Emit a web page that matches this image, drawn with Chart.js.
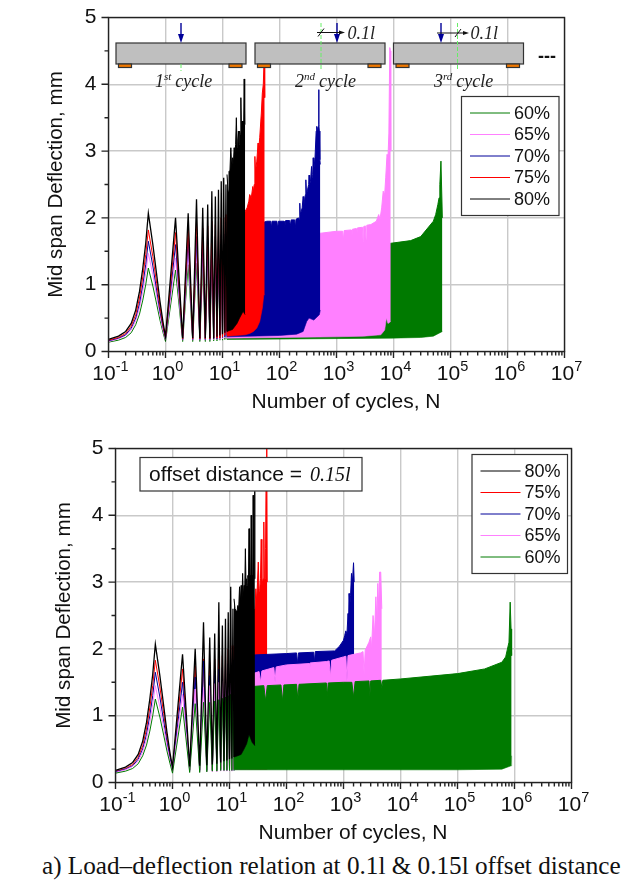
<!DOCTYPE html>
<html>
<head>
<meta charset="utf-8">
<script src="https://cdn.jsdelivr.net/npm/chart.js@4"></script>
<style>
html, body { margin: 0; background: #fff; }
body { width: 626px; height: 884px; position: relative; overflow: hidden; }
.wrap { position: absolute; left: 0; width: 626px; }
#caption { position: absolute; left: 42px; top: 852px; font: 25.2px "Liberation Serif"; color: #111; white-space: nowrap; }
</style>
</head>
<body>
<div class="wrap" style="top:0;height:412px"><canvas id="chartTop"></canvas></div>
<div class="wrap" style="top:430px;height:413px"><canvas id="chartBottom"></canvas></div>
<div id="caption">a) Load–deflection relation at 0.1l &amp; 0.15l offset distance</div>
<script>
const powers = [-1, 0, 1, 2, 3, 4, 5, 6, 7]
const xTitle = 'Number of cycles, N'
const colors = {'80%': '#000000', '75%': '#ff0000', '70%': '#000099', '65%': '#ff80ff', '60%': '#007a00'}

// load cycles: rise to first peak, then peak / trough per half cycle
const cycleN = [0.1,0.15,0.2,0.25,0.3,0.35,0.4,0.45,0.5,0.6,0.7,0.8,0.9,1,1.5,2,2.5,3,3.5,4,4.5,5,5.5,6,6.5,7,7.5,8,8.5,9,9.5,10,10.5,11,11.5,12]

// --- 0.1l offset
const a80 = [.18,.23,.30,.42,.62,.90,1.25,1.62,2.07,1.6,1.15,.75,.45,.22,2.0,.2,2.07,.2,2.28,.2,2.15,.2,2.2,.2,2.4,.2,2.32,.22,2.42,.24,2.55,.26,2.6,.28,2.5,.3]
const a75 = [.17,.21,.27,.38,.55,.80,1.12,1.45,1.82,1.42,1.02,.67,.40,.21,1.78,.19,1.85,.19,1.95,.19,1.85,.19,1.88,.19,1.95,.2,1.9,.2,1.95,.2,2.0,.22,2.0,.24,2.05,.25]
const a70 = [.16,.2,.25,.35,.5,.72,1.0,1.3,1.65,1.28,.92,.6,.37,.2,1.6,.18,1.7,.18,1.72,.18,1.68,.18,1.7,.18,1.72,.19,1.72,.19,1.72,.2,1.75,.21,1.76,.22,1.78,.22]
const a65 = [.15,.19,.24,.32,.46,.65,.9,1.17,1.47,1.15,.83,.55,.33,.18,1.4,.17,1.5,.17,1.52,.17,1.5,.17,1.52,.17,1.52,.18,1.52,.18,1.54,.18,1.55,.19,1.55,.2,1.56,.2]
const a60 = [.14,.17,.21,.28,.4,.56,.77,1.0,1.25,.98,.71,.47,.29,.15,1.22,.15,1.3,.15,1.32,.15,1.3,.15,1.33,.15,1.33,.16,1.34,.16,1.35,.17,1.36,.17,1.36,.18,1.37,.18]

const a80TopN = [12,12.5,13,13.5,14,14.5,15,15.5,16,16.5,17,17.5,18,18.5,19,19.5,20,20.5,21,21.5,22,22.5,23,23.5,24,24.5,25]
const a80TopY = [2.65,2.4,2.7,2.7,3.05,2.75,2.9,2.8,3.05,2.95,3.1,3.5,3.05,3.15,3.3,3.1,3.3,3.25,3.8,3.3,3.45,3.3,3.45,3.35,4.08,3.4,3.4]
const a80LowN = [12,15,18,20,23,25]
const a80LowY = [.3,.33,.42,.5,.6,.55]

const a75TopN = [12,25,27,29,30,32,34,35,36,37,38,40,42,43,45,47,48,50,52,54,55]
const a75TopY = [2.0,2.1,2.15,2.25,2.35,2.3,2.47,2.4,2.5,2.92,2.7,2.85,3.12,3.0,3.2,3.45,3.57,3.87,4.0,4.45,3.8]
const a75LowN = [12,25,30,35,40,45,50,53,55]
const a75LowY = [.23,.25,.27,.3,.35,.45,.65,.85,.85]

const a70TopN = [12,55,60,70,72,74,90,93,96,120,124,128,150,155,160,185,190,195,215,220,227,232,240,250,260,268,275,285,290,298,310,325,330,338,350,365,372,382,390,400,420,440,450,462,470,480,488,492,500,510,520]
const a70TopY = [1.9,1.94,1.95,1.95,1.85,1.95,1.95,1.84,1.95,1.95,1.87,1.96,1.96,1.88,1.97,1.97,1.85,1.98,2.0,1.98,2.22,2.05,2.1,2.15,2.32,2.2,2.25,2.35,2.57,2.35,2.42,2.5,2.64,2.5,2.55,2.77,2.6,2.65,2.9,2.72,2.9,3.3,3.37,3.3,3.35,3.37,3.92,3.4,3.3,2.87,2.8]
const a70LowN = [12,100,200,260,300,330,400,500,520]
const a70LowY = [.22,.24,.26,.3,.45,.5,.47,.55,.62]

const a65TopN = [12,500,520,1000,1280,1320,1360,1800,1850,1900,2200,2260,2320,2850,2930,3000,3200,3300,3400,4000,5000,5500,5800,6200,6600,7000,7300,7700,8000,8300,8600,8800,8950]
const a65TopY = [1.5,1.76,1.77,1.8,1.8,1.66,1.81,1.82,1.68,1.83,1.84,1.7,1.85,1.86,1.65,1.87,1.88,1.68,1.89,1.9,1.95,2.05,1.98,2.15,2.4,2.35,2.6,2.95,2.9,3.27,4.55,4.5,3.0]
const a65LowN = [12,1000,3000,6000,7000,7500,8000,8950]
const a65LowY = [.2,.22,.23,.25,.32,.5,.42,.45]

const a60TopN = [12,9000,20000,30000,50000,55000,60000,63000,65000,68000,72000]
const a60TopY = [1.35,1.62,1.66,1.72,1.95,2.05,2.2,2.3,2.5,2.85,2.0]
const a60LowN = [12,9000,30000,50000,72000]
const a60LowY = [.18,.2,.21,.23,.3]

// --- 0.15l offset
const b80 = [.18,.23,.30,.42,.62,.90,1.25,1.62,2.07,1.6,1.15,.75,.45,.23,1.92,.24,2.0,.25,2.4,.26,2.17,.27,2.23,.28,2.7,.3,2.35,.32,2.45,.33,2.55,.35,2.93,.36,2.6,.38]
const b75 = [.17,.21,.27,.38,.55,.80,1.12,1.45,1.83,1.43,1.03,.67,.40,.21,1.7,.19,1.75,.19,1.85,.19,1.8,.19,1.85,.19,1.95,.2,1.9,.2,1.95,.2,2.0,.2,2.05,.2,2.05,.2]
const b70 = [.16,.2,.25,.35,.5,.72,1.0,1.3,1.65,1.28,.92,.6,.37,.19,1.5,.18,1.58,.18,1.82,.18,1.6,.18,1.65,.18,1.7,.18,1.72,.18,1.75,.18,1.78,.18,1.8,.18,1.82,.18]
const b65 = [.15,.19,.24,.32,.46,.65,.9,1.17,1.45,1.13,.82,.54,.33,.17,1.32,.16,1.4,.16,1.42,.16,1.45,.16,1.48,.16,1.5,.17,1.52,.17,1.55,.17,1.56,.17,1.58,.17,1.6,.18]
const b60 = [.14,.17,.21,.28,.4,.56,.77,1.0,1.25,.98,.71,.47,.29,.14,1.13,.15,1.18,.15,1.2,.16,1.2,.17,1.22,.17,1.24,.18,1.26,.18,1.28,.18,1.3,.18,1.32,.18,1.34,.18]

const b80TopN = [12,12.5,13,13.5,14,14.5,15,15.5,16,16.5,17,17.5,18,18.5,19,19.5,20,20.5,21,21.5,22,22.5,23,23.5,24,24.5,25,25.5,26,26.5,27,27.5,28]
const b80TopY = [2.75,2.6,2.6,2.55,2.65,2.6,2.93,2.7,2.95,2.7,3.13,2.8,2.95,2.85,3.5,2.95,3.05,2.95,3.1,3.0,3.8,3.1,3.1,3.05,4.0,3.05,3.1,3.0,4.3,3.05,3.05,4.36,3.05]
const b80LowN = [12,14,16,18,20,22,25,28]
const b80LowY = [.38,.4,.42,.5,.58,.72,.6,.55]

const b75TopN = [12,28,29,30,31,32,33,34,35,36,37,38,39,40,41,42,43,44,45,46]
const b75TopY = [2.0,2.6,2.9,2.7,3.0,3.3,2.85,2.9,3.05,3.64,2.95,3.0,3.05,3.9,3.0,3.05,3.5,4.8,5.2,3.0]
const b75LowN = [12,46]
const b75LowY = [.2,.2]

const b70TopN = [12,28,100,150,156,162,300,310,320,700,850,1000,1050,1100,1150,1200,1230,1250,1290,1330,1380,1420,1500,1540]
const b70TopY = [1.85,1.91,1.93,1.94,1.78,1.94,1.95,1.8,1.96,1.97,2.04,2.13,2.2,2.27,2.22,2.53,2.4,2.83,2.65,2.8,3.13,2.95,3.29,3.0]
const b70LowN = [12,1540]
const b70LowY = [.2,.22]

const b65TopN = [12,28,33,35,37,60,63,66,100,250,255,260,500,560,590,620,1000,1100,1150,1200,2000,2200,2300,2400,2800,3000,3100,3300,3500,3700,3850,4000,4150,4300,4500,4700]
const b65TopY = [1.5,1.64,1.66,1.5,1.67,1.72,1.5,1.73,1.76,1.78,1.56,1.79,1.81,1.82,1.58,1.83,1.88,1.89,1.52,1.9,1.94,1.96,1.62,1.98,2.1,2.18,2.0,2.5,2.2,2.78,2.4,2.98,2.6,3.15,3.15,2.6]
const b65LowN = [12,4700]
const b65LowY = [.2,.22]

const b60TopN = [12,28,40,43,46,80,85,90,150,158,166,500,520,540,1000,1400,1500,1600,2800,2900,3000,4500,4700,4900,10000,100000,300000,600000,700000,800000,840000,870000,890000]
const b60TopY = [1.3,1.44,1.45,1.22,1.45,1.46,1.22,1.46,1.47,1.25,1.47,1.49,1.3,1.49,1.5,1.5,1.28,1.51,1.52,1.3,1.52,1.53,1.42,1.53,1.55,1.63,1.7,1.8,1.88,2.1,2.7,2.3,1.9]
const b60LowN = [12,10000,100000,600000,870000,890000]
const b60LowY = [.19,.19,.19,.2,.25,.4]

function points(xs, ys) {
    return xs.map((x, i) => ({x: x, y: ys[i]}))
}

// one load level = zigzag line + filled band where the cycles are too dense to separate
function levelSets(name, zig, topN, topY, lowN, lowY) {
    const c = colors[name]
    return [
        {label: name, data: points(cycleN, zig), borderColor: c, borderWidth: name == '80%' ? 1.3 : 1, fill: false},
        {label: name, data: points(topN, topY), borderColor: c, backgroundColor: c, borderWidth: 1, fill: '+1'},
        {label: name, data: points(lowN, lowY), borderColor: c, borderWidth: 0.6, fill: false},
    ]
}

// datasets earlier in the list are painted last
const topSets = [
    ...levelSets('80%', a80, a80TopN, a80TopY, a80LowN, a80LowY),
    ...levelSets('75%', a75, a75TopN, a75TopY, a75LowN, a75LowY),
    ...levelSets('70%', a70, a70TopN, a70TopY, a70LowN, a70LowY),
    ...levelSets('65%', a65, a65TopN, a65TopY, a65LowN, a65LowY),
    ...levelSets('60%', a60, a60TopN, a60TopY, a60LowN, a60LowY),
]
const bottomSets = [
    ...levelSets('80%', b80, b80TopN, b80TopY, b80LowN, b80LowY),
    ...levelSets('60%', b60, b60TopN, b60TopY, b60LowN, b60LowY),
    ...levelSets('65%', b65, b65TopN, b65TopY, b65LowN, b65LowY),
    ...levelSets('70%', b70, b70TopN, b70TopY, b70LowN, b70LowY),
    ...levelSets('75%', b75, b75TopN, b75TopY, b75LowN, b75LowY),
]

const sans = '"Liberation Sans"'
const serif = '"Liberation Serif"'

function isDecade(v) {
    const l = Math.log10(v)
    return Math.abs(l - Math.round(l)) < 1e-6
}

// frame, tick marks of two lengths, the 10^n labels and the x title
const axesPlugin = {
    id: 'axesPlugin',
    afterDatasetsDraw(chart) {
        const c = chart.ctx, a = chart.chartArea, xs = chart.scales.x, ys = chart.scales.y
        c.save()
        c.strokeStyle = '#222'
        c.lineWidth = 1.4
        c.strokeRect(a.left, a.top, a.right - a.left, a.bottom - a.top)
        c.beginPath()
        xs.ticks.forEach(t => {
            const x = xs.getPixelForValue(t.value)
            c.moveTo(x, a.bottom)
            c.lineTo(x, a.bottom + (isDecade(t.value) ? 6.5 : 4))
        })
        ys.ticks.forEach(t => {
            const y = ys.getPixelForValue(t.value)
            c.moveTo(a.left, y)
            c.lineTo(a.left - (Number.isInteger(t.value) ? 7 : 4), y)
        })
        c.stroke()
        c.fillStyle = '#111'
        c.textBaseline = 'alphabetic'
        powers.forEach(p => {
            const x = xs.getPixelForValue(Math.pow(10, p))
            const e = String(p)
            c.font = '21px ' + sans
            const w10 = c.measureText('10').width
            c.font = '14.5px ' + sans
            const we = c.measureText(e).width
            const left = x - (w10 + we) / 2 + 2
            c.font = '21px ' + sans
            c.fillText('10', left, a.bottom + 28)
            c.font = '14.5px ' + sans
            c.fillText(e, left + w10, a.bottom + 19)
        })
        c.font = '21px ' + sans
        c.textAlign = 'center'
        c.fillText(xTitle, (a.left + a.right) / 2 + 9.5, a.bottom + 56)
        c.restore()
    }
}

function legendPlugin(box, order, rowY) {
    return {
        id: 'legendBox',
        afterDraw(chart) {
            const c = chart.ctx
            c.save()
            c.fillStyle = '#fff'
            c.fillRect(box.x, box.y, box.w, box.h)
            c.strokeStyle = '#333'
            c.lineWidth = 1.2
            c.strokeRect(box.x, box.y, box.w, box.h)
            c.font = '18px ' + sans
            c.textBaseline = 'middle'
            order.forEach((n, i) => {
                const y = rowY[i]
                c.strokeStyle = colors[n]
                c.lineWidth = 1
                c.beginPath()
                c.moveTo(box.x + 8.5, y)
                c.lineTo(box.x + 48.5, y)
                c.stroke()
                c.fillStyle = '#111'
                c.fillText(n, box.x + 52.5, y + 1)
            })
            c.restore()
        }
    }
}

function arrowDown(c, x, y0, y1) {
    c.strokeStyle = '#000099'
    c.fillStyle = '#000099'
    c.lineWidth = 1.4
    c.beginPath(); c.moveTo(x, y0); c.lineTo(x, y1 - 6); c.stroke()
    c.beginPath(); c.moveTo(x - 3, y1 - 9); c.lineTo(x + 3, y1 - 9); c.lineTo(x, y1); c.closePath(); c.fill()
}

function beam(c, x, sup) {
    c.fillStyle = '#bfbfbf'
    c.strokeStyle = '#333'
    c.lineWidth = 1.2
    c.fillRect(x, 43, 130, 21)
    c.strokeRect(x, 43, 130, 21)
    c.fillStyle = '#f07800'
    sup.forEach(s => {
        c.fillRect(x + s, 64, 13, 3.5)
        c.strokeRect(x + s, 64, 13, 3.5)
    })
}

function greenDash(c, x, y0, y1) {
    c.save()
    c.strokeStyle = '#66ee66'
    c.lineWidth = 1
    c.setLineDash([4, 2])
    c.beginPath(); c.moveTo(x, y0); c.lineTo(x, y1); c.stroke()
    c.restore()
}

function dimension(c, x0, x1, y, tick) {
    c.strokeStyle = '#111'
    c.fillStyle = '#111'
    c.lineWidth = 1
    c.beginPath(); c.moveTo(x0, y); c.lineTo(x1 - 4, y); c.stroke()
    c.beginPath(); c.moveTo(x1 - 6, y - 2); c.lineTo(x1, y); c.lineTo(x1 - 6, y + 2); c.closePath(); c.fill()
    c.beginPath(); c.moveTo(tick - 3, y + 4); c.lineTo(tick + 3, y - 4); c.stroke()
}

function cycleLabel(c, x, num, sup) {
    c.fillStyle = '#222'
    c.textBaseline = 'alphabetic'
    c.font = 'italic 18px ' + serif
    c.fillText(num, x, 87)
    let p = x + c.measureText(num).width
    c.font = 'italic 11px ' + serif
    c.fillText(sup, p, 80)
    p += c.measureText(sup).width + 4
    c.font = 'italic 18px ' + serif
    c.fillText('cycle', p, 87)
}

const beamsPlugin = {
    id: 'beams',
    afterDatasetsDraw(chart) {
        const c = chart.ctx
        c.save()
        beam(c, 116, [2.5, 113])
        beam(c, 255, [2.5, 113])
        beam(c, 393.5, [2.5, 113])
        greenDash(c, 181, 64, 71)
        arrowDown(c, 181, 23, 43)
        greenDash(c, 321, 23, 71)
        arrowDown(c, 337, 23, 43)
        dimension(c, 317, 345, 32.5, 321)
        greenDash(c, 457.5, 23, 71)
        arrowDown(c, 441, 23, 43)
        dimension(c, 437, 469, 33, 458)
        c.fillStyle = '#222'
        c.font = 'italic 18px ' + serif
        c.textBaseline = 'alphabetic'
        c.fillText('0.1l', 347.5, 38.5)
        c.fillText('0.1l', 470.5, 38.5)
        cycleLabel(c, 155, '1', 'st')
        cycleLabel(c, 295, '2', 'nd')
        cycleLabel(c, 434, '3', 'rd')
        c.font = 'bold 18px ' + sans
        c.fillStyle = '#111'
        c.fillText('---', 538, 62)
        c.restore()
    }
}

const offsetPlugin = {
    id: 'offsetBox',
    afterDraw(chart) {
        const c = chart.ctx
        c.save()
        c.fillStyle = '#fff'
        c.fillRect(140, 27.5, 222, 33.5)
        c.strokeStyle = '#333'
        c.lineWidth = 1.2
        c.strokeRect(140, 27.5, 222, 33.5)
        c.fillStyle = '#111'
        c.textBaseline = 'alphabetic'
        c.font = '21px ' + sans
        c.fillText('offset distance = ', 149, 51)
        const w = c.measureText('offset distance = ').width
        c.font = 'italic 20px ' + serif
        c.fillText('0.15l', 149 + w + 2, 51)
        c.restore()
    }
}

function makeChart(id, sets, frame, plugins) {
    return new Chart(document.getElementById(id).getContext('2d'), {
        type: 'scatter',
        data: {datasets: sets},
        plugins: [axesPlugin, ...plugins],
        options: {
            responsive: true,
            maintainAspectRatio: false,
            animation: false,
            showLine: true,
            elements: {point: {radius: 0}, line: {tension: 0}},
            layout: {padding: {left: frame.titleLeft, top: frame.top, right: 626 - frame.right, bottom: 0}},
            plugins: {legend: {display: false}, tooltip: {enabled: false}},
            scales: {
                x: {
                    type: 'logarithmic',
                    min: 0.1,
                    max: 1e7,
                    afterFit: s => { s.height = frame.below },
                    grid: {
                        drawTicks: false,
                        lineWidth: 1.4,
                        color: t => isDecade(t.tick.value) ? '#c9c9c9' : 'rgba(0,0,0,0)',
                    },
                    border: {display: false},
                    ticks: {autoSkip: false, maxRotation: 0, callback: () => ''},
                },
                y: {
                    min: 0,
                    max: 5,
                    afterFit: s => {
                        s.width = frame.left - frame.titleLeft
                        s.paddingTop = 0
                        s.paddingBottom = 0
                    },
                    grid: {
                        drawTicks: false,
                        lineWidth: 1.4,
                        color: t => Number.isInteger(t.tick.value) ? '#c9c9c9' : 'rgba(0,0,0,0)',
                    },
                    border: {display: false},
                    ticks: {
                        stepSize: 0.5,
                        padding: 12,
                        color: '#111',
                        font: {family: sans, size: 21},
                        callback: v => Number.isInteger(v) ? v : '',
                    },
                    title: {display: true, text: 'Mid span Deflection, mm', font: {family: sans, size: 20.6}, color: '#111', padding: {top: 0, bottom: 0}},
                },
            },
        },
    })
}

makeChart('chartTop', topSets, {left: 108.5, right: 564.5, top: 17.5, below: 412 - 351.5, titleLeft: 44}, [
    beamsPlugin,
    legendPlugin({x: 461.5, y: 96.5, w: 97.5, h: 119}, ['60%', '65%', '70%', '75%', '80%'], [113, 134.5, 156, 177.5, 199]),
])
makeChart('chartBottom', bottomSets, {left: 115.5, right: 571.5, top: 18.5, below: 413 - 352.5, titleLeft: 52}, [
    offsetPlugin,
    legendPlugin({x: 472, y: 24.5, w: 95.5, h: 119}, ['80%', '75%', '70%', '65%', '60%'], [41, 62.5, 84, 105.5, 127]),
])
</script>
</body>
</html>
